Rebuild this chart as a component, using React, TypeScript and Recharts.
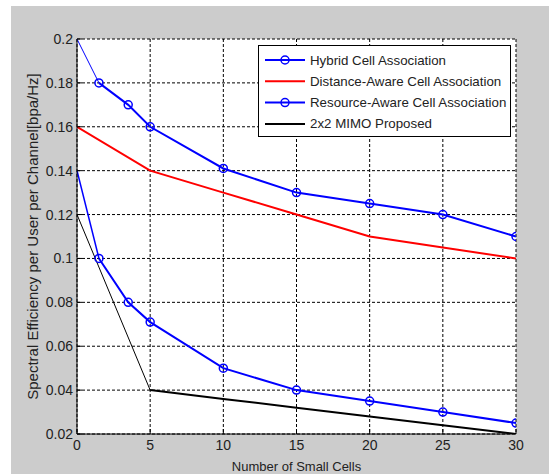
import React from 'react';
import { LineChart, Line, XAxis, YAxis, CartesianGrid, Legend } from 'recharts';

const xTicks = [0, 5, 10, 15, 20, 25, 30];
const yTicks = [0.02, 0.04, 0.06, 0.08, 0.1, 0.12, 0.14, 0.16, 0.18, 0.2];

const hybridX = [0, 1.5, 3.5, 5, 10, 15, 20, 25, 30];
const hybridY = [0.2, 0.18, 0.17, 0.16, 0.141, 0.13, 0.125, 0.12, 0.11];

const distanceX = [0, 5, 10, 15, 20, 25, 30];
const distanceY = [0.16, 0.14, 0.13, 0.12, 0.11, 0.105, 0.1];

const resourceX = [0, 1.5, 3.5, 5, 10, 15, 20, 25, 30];
const resourceY = [0.14, 0.1, 0.08, 0.071, 0.05, 0.04, 0.035, 0.03, 0.025];

const mimoX = [0, 5, 10, 15, 20, 25, 30];
const mimoY = [0.12, 0.04, 0.036, 0.032, 0.028, 0.024, 0.02];

const legendNames = [
  'Hybrid Cell Association',
  'Distance-Aware Cell Association',
  'Resource-Aware Cell Association',
  '2x2 MIMO Proposed',
];
const legendColors = ['#0000ff', '#ff0000', '#0000ff', '#000000'];
const legendMarkers = [true, false, true, false];

const zip = (xs: number[], ys: number[]) => xs.map((x, i) => ({ x, y: ys[i] }));

const hybrid = zip(hybridX, hybridY);
const distance = zip(distanceX, distanceY);
const resource = zip(resourceX, resourceY);
const mimo = zip(mimoX, mimoY);

const FONT = '"Liberation Sans", Arial, Helvetica, sans-serif';
const TEXT = '#222222';

const fmt = (v: number) => String(Number(v.toFixed(2)));

const dotStyle = { r: 4, stroke: '#0000ff', strokeWidth: 1.5, fill: 'none' };

const renderLegend = () => (
  <div
    style={{
      width: 253,
      height: 92,
      border: '1px solid #000',
      background: '#fff',
      boxSizing: 'border-box',
      position: 'relative',
    }}
  >
    <svg width={251} height={90} style={{ position: 'absolute', left: 0, top: 0 }}>
      {legendNames.map((name, i) => {
        const cy = 14 + i * 21.3;
        return (
          <g key={name}>
            <line x1={6} x2={46} y1={cy} y2={cy} stroke={legendColors[i]} strokeWidth={2} />
            {legendMarkers[i] && (
              <circle cx={26} cy={cy} r={4} stroke={legendColors[i]} strokeWidth={1.5} fill="none" />
            )}
            <text x={51} y={cy} dominantBaseline="central" fontFamily={FONT} fontSize={13.3} fill={TEXT}>
              {name}
            </text>
          </g>
        );
      })}
    </svg>
  </div>
);

const YLabel = (props: any) => {
  const vb = props.viewBox || { x: 0, y: 39, width: 77, height: 395 };
  const cx = 32;
  const cy = vb.y + vb.height / 2;
  return (
    <text
      x={cx}
      y={cy}
      transform={`rotate(-90 ${cx} ${cy})`}
      textAnchor="middle"
      dominantBaseline="central"
      fontFamily={FONT}
      fontSize={15}
      fill={TEXT}
    >
      Spectral Efficiency per User per Channel[bpa/Hz]
    </text>
  );
};

export default function App() {
  return (
    <div style={{ position: 'absolute', left: 0, top: 0, width: 549, height: 474, background: '#fff' }}>
      <div style={{ position: 'absolute', left: 11, top: 6, width: 538, height: 468, background: '#cccccc' }} />
      <div style={{ position: 'absolute', left: 0, top: 0 }}>
        <LineChart width={549} height={474} margin={{ top: 39, right: 33, bottom: 0, left: 0 }}>
          <CartesianGrid fill="#ffffff" stroke="#000" strokeDasharray="3 2" strokeWidth={1} />
          <XAxis
            dataKey="x"
            type="number"
            domain={[0, 30]}
            ticks={xTicks}
            allowDataOverflow
            height={40}
            tickSize={-5}
            tickMargin={11}
            axisLine={{ stroke: '#000' }}
            tickLine={{ stroke: '#000' }}
            tick={{ fill: TEXT, fontSize: 14, fontFamily: FONT }}
            label={{ value: 'Number of Small Cells', position: 'insideBottom', offset: 3, fill: TEXT, fontSize: 13, fontFamily: FONT }}
          />
          <XAxis
            xAxisId="top"
            orientation="top"
            dataKey="x"
            type="number"
            domain={[0, 30]}
            ticks={xTicks}
            allowDataOverflow
            height={0}
            tickSize={-5}
            tick={false}
            axisLine={{ stroke: '#000' }}
            tickLine={{ stroke: '#000' }}
          />
          <YAxis
            type="number"
            domain={[0.02, 0.2]}
            ticks={yTicks}
            allowDataOverflow
            width={77}
            tickSize={-5}
            tickMargin={9}
            tickFormatter={fmt}
            axisLine={{ stroke: '#000' }}
            tickLine={{ stroke: '#000' }}
            tick={{ fill: TEXT, fontSize: 14, fontFamily: FONT }}
            label={<YLabel />}
          />
          <YAxis
            yAxisId="right"
            orientation="right"
            type="number"
            domain={[0.02, 0.2]}
            ticks={yTicks}
            allowDataOverflow
            width={0}
            tickSize={-5}
            tick={false}
            axisLine={{ stroke: '#000' }}
            tickLine={{ stroke: '#000' }}
          />
          <Legend
            layout="vertical"
            align="center"
            verticalAlign="middle"
            content={renderLegend}
            wrapperStyle={{ position: 'absolute', left: 258, top: 45, width: 253, height: 92 }}
          />
          <Line data={hybrid.slice(0, 2)} dataKey="y" stroke="#0000ff" strokeWidth={1} dot={false} legendType="none" isAnimationActive={false} />
          <Line data={hybrid.slice(1)} dataKey="y" name={legendNames[0]} stroke="#0000ff" strokeWidth={2} dot={dotStyle} isAnimationActive={false} />
          <Line data={distance} dataKey="y" name={legendNames[1]} stroke="#ff0000" strokeWidth={2} dot={false} isAnimationActive={false} />
          <Line data={resource.slice(0, 2)} dataKey="y" stroke="#0000ff" strokeWidth={1.5} dot={false} legendType="none" isAnimationActive={false} />
          <Line data={resource.slice(1)} dataKey="y" name={legendNames[2]} stroke="#0000ff" strokeWidth={2} dot={dotStyle} isAnimationActive={false} />
          <Line data={mimo.slice(0, 2)} dataKey="y" stroke="#000000" strokeWidth={1} dot={false} legendType="none" isAnimationActive={false} />
          <Line data={mimo.slice(1)} dataKey="y" name={legendNames[3]} stroke="#000000" strokeWidth={2} dot={false} isAnimationActive={false} />
        </LineChart>
      </div>
    </div>
  );
}
